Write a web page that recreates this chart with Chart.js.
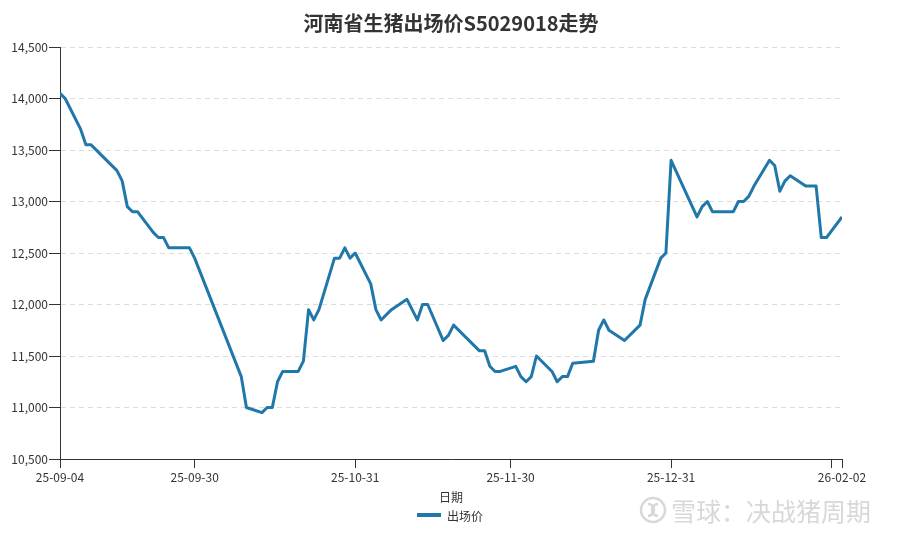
<!DOCTYPE html>
<html>
<head>
<meta charset="utf-8">
<script src="https://cdn.jsdelivr.net/npm/chart.js@4.4.1/dist/chart.umd.min.js"></script>
<style>
  html, body { margin: 0; padding: 0; background: #fff; }
  #wrap { width: 902px; height: 540px; }
</style>
</head>
<body>
<div id="wrap"><canvas id="chart" width="902" height="540"></canvas></div>
<script>
// trading-day observations (flat stretches over weekends are implied by the line)
const dates = [
  '2025-09-04', '2025-09-05', '2025-09-08', '2025-09-09', '2025-09-10', '2025-09-15',
  '2025-09-16', '2025-09-17', '2025-09-18', '2025-09-19', '2025-09-22', '2025-09-23',
  '2025-09-24', '2025-09-25', '2025-09-29', '2025-09-30', '2025-10-09', '2025-10-10',
  '2025-10-13', '2025-10-14', '2025-10-15', '2025-10-16', '2025-10-17', '2025-10-20',
  '2025-10-21', '2025-10-22', '2025-10-23', '2025-10-24', '2025-10-27', '2025-10-28',
  '2025-10-29', '2025-10-30', '2025-10-31', '2025-11-03', '2025-11-04', '2025-11-05',
  '2025-11-07', '2025-11-10', '2025-11-12', '2025-11-13', '2025-11-14', '2025-11-17',
  '2025-11-18', '2025-11-19', '2025-11-24', '2025-11-25', '2025-11-26', '2025-11-27',
  '2025-11-28', '2025-12-01', '2025-12-02', '2025-12-03', '2025-12-04', '2025-12-05',
  '2025-12-08', '2025-12-09', '2025-12-10', '2025-12-11', '2025-12-12', '2025-12-16',
  '2025-12-17', '2025-12-18', '2025-12-19', '2025-12-22', '2025-12-25', '2025-12-26',
  '2025-12-29', '2025-12-30', '2025-12-31', '2026-01-05', '2026-01-06', '2026-01-07',
  '2026-01-08', '2026-01-12', '2026-01-13', '2026-01-14', '2026-01-15', '2026-01-16',
  '2026-01-19', '2026-01-20', '2026-01-21', '2026-01-22', '2026-01-23', '2026-01-26',
  '2026-01-28', '2026-01-29', '2026-01-30', '2026-02-02'
];
const prices = [
  14050, 14000, 13700, 13550, 13550, 13300,
  13200, 12950, 12900, 12900, 12700, 12650,
  12650, 12550, 12550, 12450, 11300, 11000,
  10950, 11000, 11000, 11250, 11350, 11350,
  11450, 11950, 11850, 11950, 12450, 12450,
  12550, 12450, 12500, 12200, 11950, 11850,
  11950, 12050, 11850, 12000, 12000, 11650,
  11700, 11800, 11550, 11550, 11400, 11350,
  11350, 11400, 11300, 11250, 11300, 11500,
  11350, 11250, 11300, 11300, 11430, 11450,
  11750, 11850, 11750, 11650, 11800, 12050,
  12450, 12500, 13400, 12850, 12950, 13000,
  12900, 12900, 13000, 13000, 13050, 13150,
  13400, 13350, 13100, 13200, 13250, 13150,
  13150, 12650, 12650, 12850
];
const tickDates = ['2025-09-04', '2025-09-30', '2025-10-31', '2025-11-30', '2025-12-31', '2026-01-31', '2026-02-02'];
const hiddenTickDates = ['2026-01-31'];
const yMin = 10500, yMax = 14500, yStep = 500;

const titleText = '河南省生猪出场价S5029018走势';
const xAxisName = '日期';
const seriesName = '出场价';
const watermark = '雪球：决战猪周期';

const lineColor = '#2077aa';
const textColor = '#333';
const fontFamily = '"Noto Sans CJK SC", "Noto Sans", sans-serif';

function dayNum(s) {
  const p = s.split('-').map(Number);
  return Date.UTC(p[0], p[1] - 1, p[2]) / 86400000;
}
const day0 = dayNum(dates[0]);
function offset(s) { return dayNum(s) - day0; }
function shortLabel(s) { return s.slice(2); }

const points = dates.map((d, i) => ({ x: offset(d), y: prices[i] }));

const extras = {
  id: 'extras',
  afterDraw(chart) {
    const ctx = chart.ctx;
    const ca = chart.chartArea;
    const cx = (ca.left + ca.right) / 2;
    ctx.save();
    // title
    ctx.fillStyle = textColor;
    ctx.textAlign = 'center';
    ctx.textBaseline = 'middle';
    ctx.font = 'bold 20px ' + fontFamily;
    ctx.fillText(titleText, cx, 23);
    // x axis name
    ctx.font = '12px ' + fontFamily;
    ctx.fillText(xAxisName, cx, 497);
    // legend
    ctx.strokeStyle = lineColor;
    ctx.lineWidth = 4;
    ctx.beginPath();
    ctx.moveTo(417, 515);
    ctx.lineTo(441, 515);
    ctx.stroke();
    ctx.textAlign = 'left';
    ctx.fillText(seriesName, 447, 516);
    // watermark
    ctx.strokeStyle = '#d8d8d8';
    ctx.lineWidth = 2.5;
    ctx.beginPath();
    ctx.arc(653, 510, 12, 0, Math.PI * 2);
    ctx.stroke();
    ctx.beginPath();
    ctx.arc(648, 510, 6, -Math.PI / 2, Math.PI / 2);
    ctx.stroke();
    ctx.beginPath();
    ctx.arc(658, 510, 6, Math.PI / 2, Math.PI * 1.5);
    ctx.stroke();
    ctx.fillStyle = '#d8d8d8';
    ctx.font = '25px ' + fontFamily;
    ctx.textBaseline = 'middle';
    ctx.fillText(watermark, 671, 511);
    ctx.restore();
  }
};

new Chart(document.getElementById('chart').getContext('2d'), {
  type: 'line',
  data: {
    datasets: [{
      label: seriesName,
      data: points,
      borderColor: lineColor,
      backgroundColor: lineColor,
      borderWidth: 3,
      borderJoinStyle: 'round',
      pointRadius: 0,
      tension: 0,
      fill: false
    }]
  },
  options: {
    responsive: false,
    animation: false,
    locale: 'en-US',
    layout: { padding: { top: 47, right: 60, bottom: 0, left: 0 } },
    plugins: {
      legend: { display: false },
      title: { display: false },
      tooltip: { enabled: false }
    },
    scales: {
      x: {
        type: 'linear',
        min: 0,
        max: offset(dates[dates.length - 1]),
        afterFit: function(scale) { scale.height = 81; },
        afterBuildTicks: function(scale) {
          scale.ticks = tickDates.map(d => ({ value: offset(d) }));
        },
        grid: { drawOnChartArea: false, drawTicks: true, tickLength: 9, tickColor: textColor },
        border: { color: textColor, width: 1 },
        ticks: {
          autoSkip: false,
          maxRotation: 0,
          padding: 2,
          color: textColor,
          font: { family: fontFamily, size: 12 },
          callback: function(value, index) {
            const d = tickDates[index];
            return hiddenTickDates.includes(d) ? '' : shortLabel(d);
          }
        }
      },
      y: {
        min: yMin,
        max: yMax,
        afterFit: function(scale) { scale.width = 60; },
        grid: { color: '#dcdcdc', lineWidth: 1, tickLength: 11, tickColor: textColor },
        border: { color: textColor, width: 1, dash: [5, 4] },
        ticks: {
          stepSize: yStep,
          padding: 1,
          color: textColor,
          font: { family: fontFamily, size: 12 }
        }
      }
    }
  },
  plugins: [extras]
});
</script>
</body>
</html>
